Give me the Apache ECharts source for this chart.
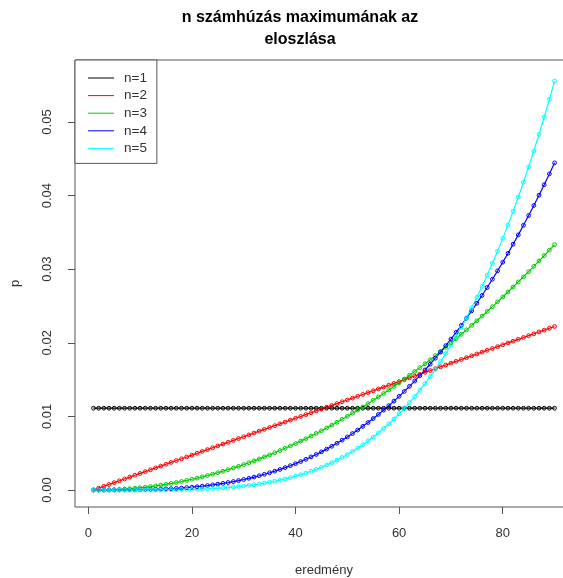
<!DOCTYPE html>
<html>
<head>
<meta charset="utf-8">
<script src="https://cdn.jsdelivr.net/npm/echarts@6/dist/echarts.min.js"></script>
<style>
  html, body { margin: 0; padding: 0; background: #fff; }
  #chart { width: 563px; height: 578px; }
</style>
</head>
<body>
<div id="chart"></div>
<script>
  // x: the drawn number (1..90)
  const xValues = [
    1, 2, 3, 4, 5, 6, 7, 8, 9, 10, 11, 12, 13, 14, 15, 16, 17, 18, 19, 20,
    21, 22, 23, 24, 25, 26, 27, 28, 29, 30, 31, 32, 33, 34, 35, 36, 37, 38, 39, 40,
    41, 42, 43, 44, 45, 46, 47, 48, 49, 50, 51, 52, 53, 54, 55, 56, 57, 58, 59, 60,
    61, 62, 63, 64, 65, 66, 67, 68, 69, 70, 71, 72, 73, 74, 75, 76, 77, 78, 79, 80,
    81, 82, 83, 84, 85, 86, 87, 88, 89, 90
  ];

  const pN1 = [
    0.011111, 0.011111, 0.011111, 0.011111, 0.011111, 0.011111, 0.011111, 0.011111, 0.011111, 0.011111,
    0.011111, 0.011111, 0.011111, 0.011111, 0.011111, 0.011111, 0.011111, 0.011111, 0.011111, 0.011111,
    0.011111, 0.011111, 0.011111, 0.011111, 0.011111, 0.011111, 0.011111, 0.011111, 0.011111, 0.011111,
    0.011111, 0.011111, 0.011111, 0.011111, 0.011111, 0.011111, 0.011111, 0.011111, 0.011111, 0.011111,
    0.011111, 0.011111, 0.011111, 0.011111, 0.011111, 0.011111, 0.011111, 0.011111, 0.011111, 0.011111,
    0.011111, 0.011111, 0.011111, 0.011111, 0.011111, 0.011111, 0.011111, 0.011111, 0.011111, 0.011111,
    0.011111, 0.011111, 0.011111, 0.011111, 0.011111, 0.011111, 0.011111, 0.011111, 0.011111, 0.011111,
    0.011111, 0.011111, 0.011111, 0.011111, 0.011111, 0.011111, 0.011111, 0.011111, 0.011111, 0.011111,
    0.011111, 0.011111, 0.011111, 0.011111, 0.011111, 0.011111, 0.011111, 0.011111, 0.011111, 0.011111
  ];

  const pN2 = [
    0, 0.00025, 0.00050, 0.00075, 0.00100, 0.00125, 0.00150, 0.00175, 0.00200, 0.00225,
    0.00250, 0.00275, 0.00300, 0.00325, 0.00350, 0.00375, 0.00400, 0.00424, 0.00449, 0.00474,
    0.00499, 0.00524, 0.00549, 0.00574, 0.00599, 0.00624, 0.00649, 0.00674, 0.00699, 0.00724,
    0.00749, 0.00774, 0.00799, 0.00824, 0.00849, 0.00874, 0.00899, 0.00924, 0.00949, 0.00974,
    0.00999, 0.01024, 0.01049, 0.01074, 0.01099, 0.01124, 0.01149, 0.01174, 0.01199, 0.01223,
    0.01248, 0.01273, 0.01298, 0.01323, 0.01348, 0.01373, 0.01398, 0.01423, 0.01448, 0.01473,
    0.01498, 0.01523, 0.01548, 0.01573, 0.01598, 0.01623, 0.01648, 0.01673, 0.01698, 0.01723,
    0.01748, 0.01773, 0.01798, 0.01823, 0.01848, 0.01873, 0.01898, 0.01923, 0.01948, 0.01973,
    0.01998, 0.02022, 0.02047, 0.02072, 0.02097, 0.02122, 0.02147, 0.02172, 0.02197, 0.02222
  ];

  const pN3 = [
    0, 0, 0.000009, 0.000026, 0.000051, 0.000085, 0.000128, 0.000179, 0.000238, 0.000306,
    0.000383, 0.000468, 0.000562, 0.000664, 0.000775, 0.000894, 0.001021, 0.001158, 0.001302, 0.001456,
    0.001617, 0.001788, 0.001966, 0.002154, 0.002349, 0.002554, 0.002766, 0.002988, 0.003218, 0.003456,
    0.003703, 0.003958, 0.004222, 0.004494, 0.004775, 0.005065, 0.005363, 0.005669, 0.005984, 0.006307,
    0.006639, 0.006980, 0.007329, 0.007686, 0.008052, 0.008427, 0.008810, 0.009202, 0.009602, 0.010010,
    0.010427, 0.010853, 0.011287, 0.011730, 0.012181, 0.012640, 0.013109, 0.013585, 0.014071, 0.014564,
    0.015066, 0.015577, 0.016096, 0.016624, 0.017160, 0.017705, 0.018258, 0.018820, 0.019391, 0.019969,
    0.020557, 0.021153, 0.021757, 0.022370, 0.022991, 0.023621, 0.024259, 0.024906, 0.025562, 0.026226,
    0.026898, 0.027579, 0.028269, 0.028967, 0.029673, 0.030388, 0.031112, 0.031844, 0.032584, 0.033333
  ];

  const pN4 = [
    0, 0, 0, 0.0000004, 0.000002, 0.000004, 0.000008, 0.000014, 0.000022, 0.000033,
    0.000047, 0.000065, 0.000086, 0.000112, 0.000142, 0.000178, 0.000219, 0.000266, 0.000319, 0.000379,
    0.000446, 0.000521, 0.000603, 0.000693, 0.000792, 0.000900, 0.001018, 0.001145, 0.001282, 0.001430,
    0.001589, 0.001759, 0.001941, 0.002135, 0.002342, 0.002561, 0.002794, 0.003041, 0.003302, 0.003577,
    0.003867, 0.004172, 0.004493, 0.004830, 0.005183, 0.005553, 0.005941, 0.006346, 0.006769, 0.007210,
    0.007671, 0.008150, 0.008649, 0.009168, 0.009707, 0.010267, 0.010849, 0.011451, 0.012076, 0.012723,
    0.013392, 0.014085, 0.014801, 0.015541, 0.016306, 0.017095, 0.017909, 0.018748, 0.019613, 0.020505,
    0.021423, 0.022368, 0.023341, 0.024341, 0.025370, 0.026427, 0.027513, 0.028628, 0.029773, 0.030948,
    0.032154, 0.033391, 0.034659, 0.035959, 0.037290, 0.038655, 0.040052, 0.041482, 0.042946, 0.044444
  ];

  const pN5 = [
    0, 0, 0, 0, 0, 0, 0, 0.000001, 0.000002, 0.000003,
    0.000005, 0.000008, 0.000011, 0.000016, 0.000023, 0.000031, 0.000041, 0.000054, 0.000070, 0.000088,
    0.000110, 0.000136, 0.000166, 0.000201, 0.000242, 0.000288, 0.000340, 0.000399, 0.000466, 0.000540,
    0.000624, 0.000716, 0.000818, 0.000931, 0.001055, 0.001191, 0.001340, 0.001503, 0.001680, 0.001871,
    0.002079, 0.002304, 0.002547, 0.002808, 0.003089, 0.003390, 0.003713, 0.004058, 0.004427, 0.004821,
    0.005240, 0.005686, 0.006160, 0.006663, 0.007196, 0.007760, 0.008357, 0.008988, 0.009654, 0.010356,
    0.011095, 0.011874, 0.012693, 0.013553, 0.014457, 0.015405, 0.016399, 0.017440, 0.018530, 0.019670,
    0.020863, 0.022108, 0.023409, 0.024766, 0.026181, 0.027656, 0.029192, 0.030792, 0.032456, 0.034187,
    0.035986, 0.037856, 0.039797, 0.041812, 0.043903, 0.046071, 0.048318, 0.050647, 0.053059, 0.055556
  ];

  const seriesNames = ['n=1', 'n=2', 'n=3', 'n=4', 'n=5'];
  const seriesValues = [pN1, pN2, pN3, pN4, pN5];
  const xTicks = [0, 20, 40, 60, 80];
  const yTicks = [0, 0.01, 0.02, 0.03, 0.04, 0.05];

  const colors = ['#000000', '#ff0000', '#00cd00', '#0000ff', '#00ffff'];
  const FONT = 'Arial, "Liberation Sans", sans-serif';
  const textColor = '#333';
  const axisColor = '#555';

  let myChart = echarts.init(document.getElementById('chart'));

  // hollow circles + thin line, like R's type="b"
  let series = seriesNames.map((name, i) => ({
    name: name,
    type: 'line',
    data: xValues.map((x, k) => [x, seriesValues[i][k]]),
    symbol: 'circle',
    symbolSize: 3.8,
    showAllSymbol: true,
    lineStyle: { color: colors[i], width: 1.2 },
    itemStyle: { color: 'rgba(255,255,255,0)', borderColor: colors[i], borderWidth: 1 },
    emphasis: { disabled: true }
  }));

  let option = {
    animation: false,
    backgroundColor: '#fff',
    title: {
      text: 'n számhúzás maximumának az\neloszlása',
      left: 300,
      top: 7,
      textAlign: 'center',
      padding: 0,
      textStyle: {
        fontFamily: FONT,
        fontSize: 16,
        fontWeight: 'bold',
        color: '#000',
        lineHeight: 22
      }
    },
    legend: {
      orient: 'vertical',
      left: 75,
      top: 60,
      padding: [11, 10, 8, 13],
      itemGap: 3.6,
      itemWidth: 26,
      itemHeight: 1,
      icon: 'rect',
      selectedMode: false,
      borderColor: axisColor,
      borderWidth: 1,
      backgroundColor: '#fff',
      borderRadius: 0,
      textStyle: {
        fontFamily: FONT,
        fontSize: 13.5,
        color: textColor,
        lineHeight: 14,
        padding: [0, 0, 0, 5]
      },
      data: seriesNames.map((name, i) => ({
        name: name,
        itemStyle: { color: colors[i], borderWidth: 0 }
      }))
    },
    grid: {
      left: 75,
      top: 60,
      width: 498,
      height: 447,
      outerBoundsMode: 'none',
      containLabel: false,
      show: true,
      borderColor: axisColor,
      borderWidth: 1,
      backgroundColor: 'transparent'
    },
    xAxis: {
      type: 'value',
      min: -2.56,
      max: 93.56,
      name: 'eredmény',
      nameLocation: 'middle',
      nameGap: 57,
      nameTextStyle: { fontFamily: FONT, fontSize: 13, color: textColor, verticalAlign: 'top' },
      axisLine: { show: false, onZero: false },
      splitLine: { show: false },
      axisTick: {
        show: true,
        length: 7,
        lineStyle: { color: axisColor },
        customValues: xTicks
      },
      axisLabel: {
        customValues: xTicks,
        margin: 20,
        fontFamily: FONT,
        fontSize: 13,
        color: textColor
      }
    },
    yAxis: {
      type: 'value',
      min: -0.00231,
      max: 0.05842,
      name: 'p',
      nameLocation: 'middle',
      nameRotate: 90,
      nameGap: 53,
      nameTextStyle: { fontFamily: FONT, fontSize: 13, color: textColor },
      axisLine: { show: false, onZero: false },
      splitLine: { show: false },
      axisTick: {
        show: true,
        length: 7,
        lineStyle: { color: axisColor },
        customValues: yTicks
      },
      axisLabel: {
        customValues: yTicks,
        rotate: 90,
        margin: 21,
        fontFamily: FONT,
        fontSize: 13,
        color: textColor,
        formatter: (v) => v.toFixed(2)
      }
    },
    series: series
  };

  myChart.setOption(option);
</script>
</body>
</html>
